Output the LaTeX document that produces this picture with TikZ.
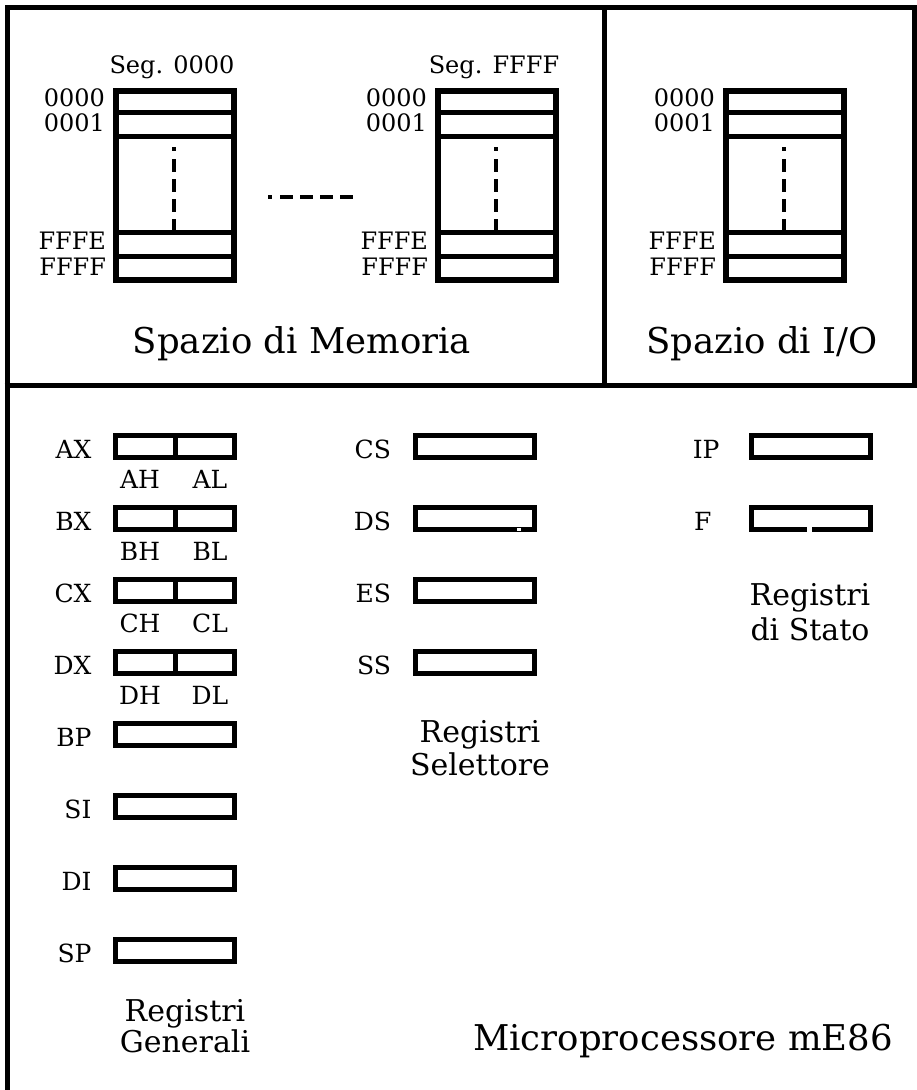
\documentclass[tikz,border=0pt]{standalone}
\usepackage{fontspec}
\setmainfont{DejaVu Serif}
\usepackage{tikz}
\usetikzlibrary{
  positioning,
  calc
}

\begin{document}
\begin{tikzpicture}[x=1pt, y=-1pt,
    every node/.style={inner sep=0pt, outer sep=0pt},
    frame/.style={line width=5pt},
    memblock/.style={draw, line width=6pt, minimum width=118pt, minimum height=189pt},
    memrow/.style={line width=5pt},
    regbox/.style={draw, line width=5pt, minimum width=119pt, minimum height=22pt},
    addr/.style={font=\fontsize{24}{24}\selectfont, anchor=base east},
    regname/.style={font=\fontsize{25}{25}\selectfont},
    title/.style={font=\fontsize{35.5}{36}\selectfont},
    group/.style={font=\fontsize{30}{33}\selectfont, align=center},
    dots/.style={line width=3.5pt, dash pattern=on 4pt off 8pt on 13pt off 7pt on 13pt off 7pt on 13pt off 7pt on 13pt off 7pt}]
  \useasboundingbox (0,0) rectangle (917,1090);

  % Outer frame
  \draw[frame] (7,1090) -- (7,7) -- (914,7) -- (914,385.5);
  \draw[frame] (4.5,385.5) -- (916.5,385.5);
  \draw[frame] (604.5,7) -- (604.5,385.5);

  % Memory and I/O spaces
  \foreach \name/\cx in {mseg0/175, mseg1/497, io/785} {
    \node[memblock] (\name) at (\cx,185.5) {};
    \foreach \dy in {21,45,141,165}
      \draw[memrow] ($(\name.north west)+(0,\dy)$) -- ($(\name.north east)+(0,\dy)$);
    \draw[dots] ($(\name.north)+(-1,56)$) -- ($(\name.north)+(-1,141)$);
    \node[addr] at ($(\name.north west)+(-11,15)$) {0000};
    \node[addr] at ($(\name.north west)+(-11,40)$) {0001};
    \node[addr] at ($(\name.north west)+(-10,158)$) {FFFE};
    \node[addr] at ($(\name.north west)+(-10,184)$) {FFFF};
  }
  \node[addr, anchor=base] (seglo) at (172,73) {Seg. 0000};
  \node[addr, anchor=base] (seghi) at (494,73) {Seg. FFFF};
  \draw[dots] (268,197) -- (355,197);
  \node[title, anchor=base] (memtitle) at (302,353) {Spazio di Memoria};
  \node[title, anchor=base] (iotitle) at (762,353) {Spazio di I/O};

  % General registers
  \foreach \nm/\txt/\hi/\lo/\y in {ax/AX/AH/AL/446, bx/BX/BH/BL/518, cx/CX/CH/CL/590, dx/DX/DH/DL/662} {
    \node[regbox] (\nm) at (175,\y) {};
    \draw[memrow] (\nm.north) -- (\nm.south);
    \node[regname, left=24pt of \nm, yshift=-3pt] {\txt};
    \node[regname, anchor=base] at ($(\nm.south)+(-35,31)$) {\hi};
    \node[regname, anchor=base] at ($(\nm.south)+(35,31)$) {\lo};
  }
  \foreach \nm/\txt/\y in {bp/BP/734, si/SI/806, di/DI/878, sp/SP/950} {
    \node[regbox] (\nm) at (175,\y) {};
    \node[regname, left=24pt of \nm, yshift=-3pt] {\txt};
  }
  \node[group, font=\fontsize{30}{26}\selectfont, anchor=base] (gengrp) at (185,1052) {Registri\\Generali};

  % Segment selector registers
  \foreach \nm/\txt/\y in {cs/CS/446, ds/DS/518, es/ES/590, ss/SS/662} {
    \node[regbox] (\nm) at (474.5,\y) {};
    \node[regname, left=24pt of \nm, yshift=-3pt] {\txt};
  }
  \fill[white] (517,527.5) rectangle (521,531);
  \node[group, anchor=base] (selgrp) at (480,775) {Registri\\Selettore};

  % Status registers
  \node[regbox] (ip) at (811,446) {};
  \node[regname, left=32pt of ip, yshift=-3pt] {IP};
  \node[regbox] (fl) at (811,518) {};
  \node[regname, left=40pt of fl, yshift=-3pt] {F};
  \fill[white] (807,525) rectangle (812,532);
  \node[group, font=\fontsize{30}{35}\selectfont, anchor=base] (stgrp) at (810,640) {Registri\\di Stato};

  \node[title, anchor=base] (cpu) at (683,1050) {Microprocessore mE86};
\end{tikzpicture}
\end{document}
